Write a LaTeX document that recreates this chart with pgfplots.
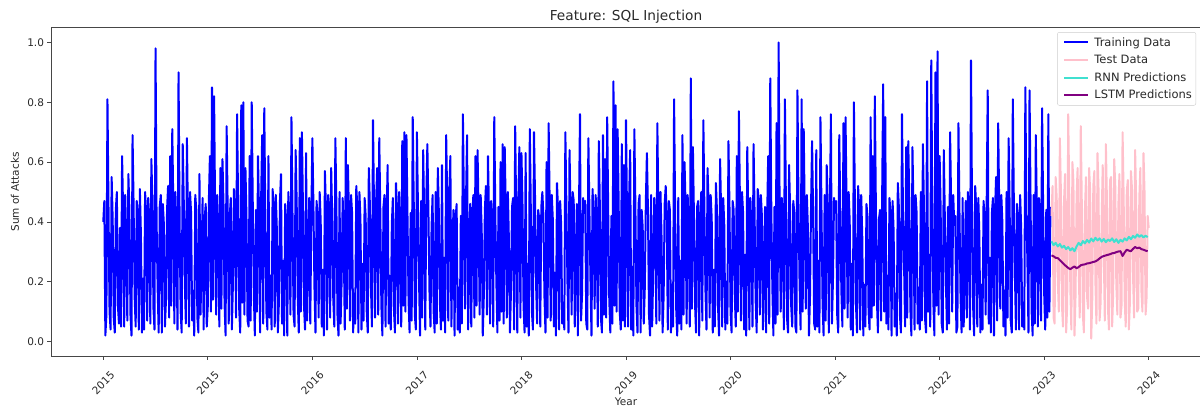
\documentclass[border=0pt]{standalone}
\usepackage{fontspec}
\setmainfont{DejaVu Sans}
\usepackage{pgfplots}
\usepackage{pgfplotstable}
\pgfplotsset{compat=1.18}

\definecolor{trainblue}{RGB}{0,0,255}
\definecolor{testpink}{RGB}{255,192,203}
\definecolor{rnnturq}{RGB}{64,224,208}
\definecolor{lstmpurple}{RGB}{128,0,128}
\definecolor{framegray}{RGB}{70,70,70}
\definecolor{textgray}{RGB}{40,40,40}

% Sum of attacks, one value per step (100 steps per year tick)
\pgfplotstableread[row sep=\\, header=false]{
0.40\\0.47\\0.02\\0.09\\0.81\\0.45\\0.10\\0.04\\0.55\\0.41\\0.08\\0.03\\0.44\\0.50\\0.12\\0.06\\0.38\\0.05\\0.62\\0.43\\
0.05\\0.49\\0.33\\0.07\\0.56\\0.44\\0.09\\0.02\\0.69\\0.46\\0.15\\0.05\\0.47\\0.42\\0.04\\0.51\\0.36\\0.03\\0.21\\0.04\\
0.50\\0.43\\0.07\\0.48\\0.41\\0.06\\0.61\\0.47\\0.11\\0.04\\0.98\\0.40\\0.18\\0.03\\0.45\\0.49\\0.03\\0.46\\0.39\\0.05\\
0.14\\0.44\\0.52\\0.08\\0.62\\0.12\\0.71\\0.45\\0.06\\0.50\\0.34\\0.04\\0.90\\0.41\\0.10\\0.03\\0.66\\0.47\\0.20\\0.06\\
0.68\\0.42\\0.05\\0.50\\0.43\\0.07\\0.17\\0.02\\0.49\\0.44\\0.08\\0.03\\0.56\\0.09\\0.25\\0.48\\0.04\\0.41\\0.46\\0.05\\
0.12\\0.47\\0.62\\0.10\\0.85\\0.14\\0.82\\0.43\\0.09\\0.49\\0.37\\0.05\\0.58\\0.11\\0.61\\0.46\\0.13\\0.02\\0.72\\0.44\\
0.06\\0.42\\0.48\\0.04\\0.19\\0.51\\0.40\\0.08\\0.76\\0.45\\0.11\\0.03\\0.79\\0.13\\0.80\\0.09\\0.58\\0.41\\0.07\\0.05\\
0.62\\0.07\\0.80\\0.46\\0.16\\0.02\\0.44\\0.10\\0.62\\0.43\\0.03\\0.48\\0.69\\0.06\\0.78\\0.42\\0.10\\0.04\\0.62\\0.08\\
0.22\\0.04\\0.51\\0.44\\0.05\\0.49\\0.38\\0.03\\0.13\\0.47\\0.56\\0.06\\0.27\\0.02\\0.46\\0.40\\0.02\\0.50\\0.42\\0.09\\
0.75\\0.43\\0.09\\0.05\\0.64\\0.47\\0.15\\0.03\\0.68\\0.10\\0.70\\0.45\\0.12\\0.04\\0.63\\0.07\\0.30\\0.48\\0.06\\0.41\\
0.68\\0.46\\0.18\\0.03\\0.47\\0.42\\0.08\\0.50\\0.40\\0.05\\0.24\\0.02\\0.57\\0.44\\0.04\\0.49\\0.44\\0.08\\0.58\\0.41\\
0.14\\0.05\\0.68\\0.45\\0.09\\0.02\\0.50\\0.06\\0.20\\0.48\\0.35\\0.04\\0.68\\0.11\\0.59\\0.43\\0.07\\0.49\\0.43\\0.03\\
0.16\\0.06\\0.52\\0.45\\0.03\\0.50\\0.41\\0.04\\0.26\\0.07\\0.48\\0.42\\0.10\\0.03\\0.58\\0.46\\0.19\\0.05\\0.74\\0.44\\
0.08\\0.47\\0.58\\0.09\\0.68\\0.43\\0.12\\0.02\\0.45\\0.49\\0.05\\0.41\\0.59\\0.06\\0.22\\0.04\\0.39\\0.48\\0.11\\0.03\\
0.53\\0.44\\0.06\\0.50\\0.36\\0.05\\0.67\\0.12\\0.70\\0.10\\0.69\\0.42\\0.14\\0.03\\0.43\\0.07\\0.75\\0.46\\0.09\\0.04\\
0.70\\0.45\\0.21\\0.02\\0.47\\0.08\\0.64\\0.41\\0.04\\0.48\\0.66\\0.44\\0.17\\0.05\\0.38\\0.49\\0.10\\0.03\\0.50\\0.06\\
0.58\\0.43\\0.13\\0.04\\0.59\\0.07\\0.28\\0.03\\0.69\\0.47\\0.07\\0.50\\0.62\\0.05\\0.33\\0.44\\0.02\\0.41\\0.46\\0.04\\
0.18\\0.03\\0.42\\0.06\\0.76\\0.45\\0.11\\0.48\\0.69\\0.04\\0.24\\0.46\\0.05\\0.42\\0.49\\0.08\\0.62\\0.12\\0.64\\0.43\\
0.09\\0.49\\0.37\\0.02\\0.15\\0.44\\0.52\\0.09\\0.62\\0.41\\0.06\\0.47\\0.40\\0.05\\0.75\\0.43\\0.20\\0.03\\0.45\\0.07\\
0.60\\0.10\\0.66\\0.06\\0.65\\0.44\\0.08\\0.50\\0.34\\0.03\\0.17\\0.45\\0.48\\0.04\\0.72\\0.42\\0.03\\0.47\\0.65\\0.08\\
0.63\\0.46\\0.12\\0.03\\0.63\\0.05\\0.26\\0.02\\0.71\\0.43\\0.10\\0.04\\0.70\\0.48\\0.19\\0.06\\0.44\\0.41\\0.05\\0.45\\
0.50\\0.42\\0.15\\0.03\\0.60\\0.08\\0.73\\0.46\\0.07\\0.49\\0.41\\0.05\\0.23\\0.02\\0.53\\0.44\\0.04\\0.47\\0.39\\0.06\\
0.13\\0.04\\0.70\\0.45\\0.20\\0.03\\0.64\\0.41\\0.09\\0.50\\0.47\\0.05\\0.28\\0.46\\0.02\\0.43\\0.76\\0.07\\0.16\\0.48\\
0.43\\0.47\\0.06\\0.04\\0.68\\0.44\\0.21\\0.02\\0.51\\0.42\\0.11\\0.49\\0.36\\0.05\\0.67\\0.45\\0.08\\0.03\\0.69\\0.09\\
0.61\\0.08\\0.75\\0.43\\0.14\\0.03\\0.42\\0.06\\0.87\\0.12\\0.79\\0.10\\0.71\\0.46\\0.10\\0.04\\0.66\\0.07\\0.59\\0.05\\
0.74\\0.41\\0.05\\0.48\\0.64\\0.04\\0.25\\0.02\\0.71\\0.45\\0.12\\0.03\\0.46\\0.49\\0.03\\0.44\\0.38\\0.06\\0.18\\0.47\\
0.63\\0.44\\0.09\\0.02\\0.49\\0.05\\0.22\\0.48\\0.40\\0.06\\0.73\\0.42\\0.07\\0.50\\0.35\\0.03\\0.15\\0.46\\0.52\\0.41\\
0.04\\0.47\\0.44\\0.03\\0.19\\0.05\\0.81\\0.43\\0.11\\0.02\\0.48\\0.06\\0.27\\0.04\\0.69\\0.09\\0.60\\0.45\\0.06\\0.49\\
0.37\\0.05\\0.88\\0.11\\0.65\\0.42\\0.13\\0.03\\0.45\\0.47\\0.02\\0.41\\0.50\\0.07\\0.74\\0.44\\0.17\\0.04\\0.58\\0.46\\
0.08\\0.49\\0.41\\0.03\\0.24\\0.05\\0.53\\0.44\\0.12\\0.02\\0.61\\0.43\\0.05\\0.48\\0.39\\0.04\\0.20\\0.06\\0.67\\0.45\\
0.10\\0.03\\0.47\\0.44\\0.16\\0.05\\0.62\\0.10\\0.77\\0.46\\0.07\\0.50\\0.43\\0.04\\0.29\\0.02\\0.65\\0.41\\0.04\\0.48\\
0.36\\0.05\\0.66\\0.43\\0.14\\0.03\\0.51\\0.47\\0.09\\0.49\\0.42\\0.04\\0.23\\0.45\\0.03\\0.41\\0.62\\0.06\\0.88\\0.44\\
0.18\\0.02\\0.45\\0.06\\0.73\\0.09\\1.00\\0.42\\0.10\\0.48\\0.40\\0.04\\0.81\\0.45\\0.08\\0.03\\0.59\\0.44\\0.12\\0.05\\
0.47\\0.43\\0.05\\0.03\\0.84\\0.46\\0.20\\0.04\\0.81\\0.10\\0.71\\0.41\\0.11\\0.49\\0.38\\0.02\\0.15\\0.45\\0.67\\0.42\\
0.06\\0.04\\0.64\\0.05\\0.27\\0.03\\0.75\\0.44\\0.13\\0.02\\0.49\\0.07\\0.59\\0.46\\0.03\\0.42\\0.76\\0.06\\0.21\\0.48\\
0.44\\0.47\\0.09\\0.03\\0.69\\0.43\\0.17\\0.05\\0.73\\0.11\\0.75\\0.45\\0.08\\0.50\\0.40\\0.04\\0.26\\0.02\\0.80\\0.44\\
0.12\\0.03\\0.52\\0.45\\0.04\\0.49\\0.35\\0.02\\0.19\\0.05\\0.46\\0.42\\0.10\\0.04\\0.75\\0.08\\0.62\\0.12\\0.82\\0.46\\
0.14\\0.03\\0.41\\0.44\\0.07\\0.48\\0.86\\0.10\\0.75\\0.06\\0.22\\0.04\\0.48\\0.43\\0.02\\0.47\\0.37\\0.05\\0.16\\0.02\\
0.53\\0.45\\0.09\\0.03\\0.76\\0.42\\0.25\\0.05\\0.65\\0.08\\0.67\\0.47\\0.11\\0.02\\0.65\\0.44\\0.04\\0.49\\0.43\\0.06\\
0.18\\0.04\\0.50\\0.07\\0.66\\0.45\\0.08\\0.03\\0.87\\0.10\\0.29\\0.05\\0.94\\0.43\\0.13\\0.02\\0.90\\0.12\\0.97\\0.09\\
0.62\\0.44\\0.06\\0.03\\0.64\\0.41\\0.20\\0.04\\0.45\\0.06\\0.70\\0.46\\0.10\\0.49\\0.39\\0.42\\0.03\\0.05\\0.73\\0.43\\
0.15\\0.03\\0.48\\0.05\\0.24\\0.47\\0.08\\0.50\\0.41\\0.04\\0.94\\0.44\\0.12\\0.02\\0.52\\0.45\\0.05\\0.48\\0.36\\0.03\\
0.19\\0.04\\0.47\\0.42\\0.09\\0.46\\0.84\\0.06\\0.28\\0.03\\0.43\\0.48\\0.02\\0.44\\0.55\\0.07\\0.73\\0.45\\0.11\\0.49\\
0.40\\0.05\\0.17\\0.02\\0.50\\0.08\\0.68\\0.44\\0.07\\0.03\\0.81\\0.46\\0.23\\0.04\\0.46\\0.42\\0.04\\0.49\\0.38\\0.05\\
0.13\\0.04\\0.85\\0.44\\0.26\\0.03\\0.84\\0.46\\0.10\\0.02\\0.49\\0.06\\0.69\\0.43\\0.05\\0.48\\0.42\\0.07\\0.78\\0.45\\
0.16\\0.04\\0.44\\0.08\\0.76\\0.10\\0.45\\
}\traindata

% Held-out year, starting at step 907
\pgfplotstableread[row sep=\\, header=false]{
0.42\\0.52\\0.08\\0.06\\0.55\\0.48\\0.21\\0.10\\0.68\\0.50\\
0.12\\0.05\\0.47\\0.56\\0.03\\0.12\\0.76\\0.49\\0.18\\0.04\\
0.60\\0.53\\0.02\\0.15\\0.49\\0.58\\0.25\\0.08\\0.72\\0.46\\
0.09\\0.03\\0.44\\0.55\\0.15\\0.11\\0.58\\0.50\\0.01\\0.14\\
0.52\\0.57\\0.20\\0.06\\0.63\\0.51\\0.07\\0.13\\0.41\\0.59\\
0.30\\0.07\\0.66\\0.48\\0.11\\0.04\\0.54\\0.55\\0.05\\0.16\\
0.61\\0.52\\0.19\\0.09\\0.46\\0.56\\0.08\\0.12\\0.70\\0.49\\
0.14\\0.05\\0.50\\0.54\\0.04\\0.13\\0.57\\0.51\\0.22\\0.08\\
0.64\\0.47\\0.10\\0.11\\0.48\\0.58\\0.17\\0.10\\0.63\\0.50\\
0.09\\0.15\\0.42\\0.38\\
}\testdata

% Model outputs over the held-out year, every second step
\pgfplotstableread[row sep=\\, header=false]{
0.335\\0.322\\0.330\\0.318\\0.326\\0.314\\0.320\\0.309\\0.316\\0.305\\
0.312\\0.302\\0.318\\0.330\\0.322\\0.336\\0.328\\0.340\\0.331\\0.344\\
0.335\\0.347\\0.338\\0.345\\0.334\\0.343\\0.332\\0.341\\0.336\\0.345\\
0.333\\0.342\\0.330\\0.340\\0.334\\0.345\\0.338\\0.350\\0.342\\0.353\\
0.347\\0.358\\0.350\\0.356\\0.348\\0.354\\0.349\\
}\rnndata

\pgfplotstableread[row sep=\\, header=false]{
0.288\\0.285\\0.280\\0.279\\0.272\\0.265\\0.258\\0.252\\0.246\\0.242\\
0.247\\0.251\\0.245\\0.249\\0.255\\0.257\\0.258\\0.261\\0.262\\0.264\\
0.266\\0.268\\0.272\\0.278\\0.283\\0.286\\0.288\\0.290\\0.292\\0.295\\
0.296\\0.299\\0.301\\0.302\\0.286\\0.298\\0.307\\0.304\\0.302\\0.310\\
0.316\\0.312\\0.314\\0.309\\0.307\\0.304\\0.302\\
}\lstmdata

\begin{document}
\begin{tikzpicture}
\useasboundingbox (-51pt,-62.4pt) rectangle (1149pt,356.5pt);
\begin{axis}[
  scale only axis,
  width=1150pt, height=329pt,
  xmin=-50, xmax=1050,
  ymin=-0.05, ymax=1.05,
  xtick={0,100,200,300,400,500,600,700,800,900,1000},
  xticklabels={2015,2015,2016,2017,2018,2019,2020,2021,2022,2023,2024},
  ytick={0,0.2,0.4,0.6,0.8,1.0},
  /pgf/number format/assume math mode=true,
  yticklabel style={/pgf/number format/.cd, fixed, fixed zerofill, precision=1},
  xticklabel style={yshift=-23pt, rotate=45, anchor=center},
  tick label style={font=\fontsize{10.5}{12}\selectfont, text=textgray},
  tick align=outside,
  major tick length=3.5pt,
  xtick pos=bottom, ytick pos=left,
  tick style={framegray, line width=0.8pt},
  axis line style={framegray, line width=0.8pt},
  title={Feature: SQL Injection},
  every axis title shift=0pt,
  title style={font=\fontsize{13.7}{16}\selectfont, text=textgray,
    at={(axis description cs:0.5,1)}, anchor=base, yshift=7pt},
  xlabel={Year},
  xlabel style={font=\fontsize{10.5}{12}\selectfont, text=textgray,
    at={(axis description cs:0.5,0)}, anchor=base, yshift=-49pt},
  ylabel={Sum of Attacks},
  ylabel style={font=\fontsize{10.5}{12}\selectfont, text=textgray,
    at={(axis description cs:-0.028,0.5)}, anchor=base, rotate=0},
  legend cell align=left,
  legend image code/.code={%
    \path (-4pt,0pt) (27pt,0pt);
    \draw[#1, line width=2pt] (0pt,0pt) -- (24pt,0pt);},
  legend style={at={(rel axis cs:0.9957,0.986)}, anchor=north east,
    draw=black!20, rounded corners=2pt, fill=white, fill opacity=0.8,
    text opacity=1, draw opacity=1, text=textgray,
    font=\fontsize{11.5}{13}\selectfont, row sep=3.5pt,
    inner xsep=2pt, inner ysep=3pt},
]
\addplot[trainblue, line width=2pt, line join=round] table[x expr=\coordindex, y index=0] {\traindata};
\addlegendentry{Training Data}
\addplot[testpink, line width=2pt, line join=round] table[x expr=\coordindex+907, y index=0] {\testdata};
\addlegendentry{Test Data}
\addplot[rnnturq, line width=2pt, line join=round] table[x expr=2*\coordindex+907, y index=0] {\rnndata};
\addlegendentry{RNN Predictions}
\addplot[lstmpurple, line width=2pt, line join=round] table[x expr=2*\coordindex+907, y index=0] {\lstmdata};
\addlegendentry{LSTM Predictions}
\end{axis}
\end{tikzpicture}
\end{document}
